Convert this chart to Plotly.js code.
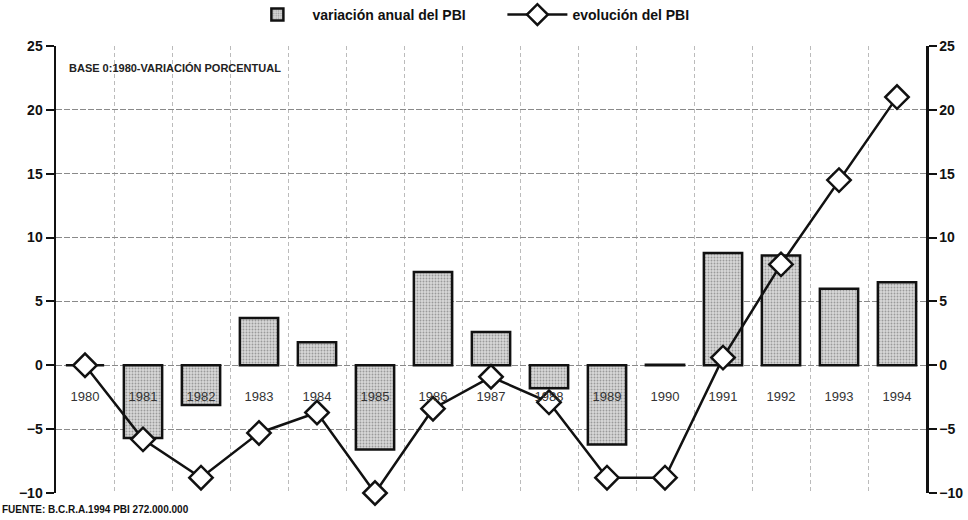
<!DOCTYPE html>
<html><head><meta charset="utf-8">
<script src="https://cdn.plot.ly/plotly-3.0.1.min.js"></script>
<style>body{margin:0;background:#fff}#c{width:968px;height:520px}</style>
</head><body><div id="c"></div>
<script>
const years = ["1980","1981","1982","1983","1984","1985","1986","1987","1988","1989","1990","1991","1992","1993","1994"];
const variacionAnual = [0, -5.7, -3.1, 3.7, 1.8, -6.6, 7.3, 2.6, -1.8, -6.2, 0.05, 8.8, 8.6, 6.0, 6.5];
const evolucion = [0, -5.8, -8.8, -5.3, -3.7, -10.0, -3.4, -0.9, -2.9, -8.8, -8.8, 0.6, 7.9, 14.5, 21.0];
const yTicks = [-10, -5, 0, 5, 10, 15, 20, 25];
const barName = "variación anual del PBI";
const lineName = "evolución del PBI";
const noteTop = "BASE 0:1980-VARIACIÓN PORCENTUAL";
const noteBottom = "FUENTE: B.C.R.A.1994 PBI 272.000.000";

const F = "Liberation Sans, Arial, sans-serif";
const yr = [-10, 25];

const traces = [
  {type:"bar", x:years, y:variacionAnual, name:barName, width:0.66,
   marker:{color:"#d0d0d0", line:{color:"#111", width:2.5},
     pattern:{shape:".", bgcolor:"#d8d8d8", fgcolor:"#9a9a9a", size:3, solidity:0.3}}},
  {type:"scatter", mode:"lines+markers", x:years, y:evolucion, name:lineName, cliponaxis:false,
   line:{color:"#111", width:2.5},
   marker:{symbol:"diamond", size:18, color:"#fff", line:{color:"#111", width:2.5}}},
  {type:"scatter", mode:"lines", x:years, y:evolucion, yaxis:"y2", opacity:0,
   showlegend:false, hoverinfo:"skip"}
];

const layout = {
  width:968, height:520, paper_bgcolor:"#fff", plot_bgcolor:"#fff",
  margin:{l:56, r:42, t:46, b:27},
  font:{family:F, color:"#111", size:13},
  showlegend:true,
  legend:{orientation:"h", x:0.519, xanchor:"center", y:1 - 15/520, yanchor:"middle",
    yref:"container", xref:"container", font:{family:F, size:14, color:"#111", weight:"bold"},
    itemwidth:60, entrywidth:185, entrywidthmode:"pixels", traceorder:"normal", bgcolor:"rgba(0,0,0,0)"},
  xaxis:{type:"category", range:[-0.5, 14.5], anchor:"free", position:10/35,
    tickson:"boundaries", ticks:"", showline:false, zeroline:false,
    showgrid:true, gridcolor:"#bbbbbb", griddash:"4px,3px", gridwidth:1,
    tickfont:{family:F, size:13, color:"#333"}, ticklabelstandoff:22},
  yaxis:{range:yr, tickvals:yTicks, ticks:"outside", ticklen:8, tickwidth:2, tickcolor:"#111",
    showline:true, linecolor:"#111", linewidth:2.5, zeroline:false,
    showgrid:true, gridcolor:"#8a8a8a", griddash:"6px,2px", gridwidth:1.2,
    tickfont:{family:F, size:14, color:"#111", weight:"bold"}},
  yaxis2:{range:yr, tickvals:yTicks, overlaying:"y", side:"right", ticks:"outside", ticklen:8,
    tickwidth:2, tickcolor:"#111", showline:true, linecolor:"#111", linewidth:2.5,
    zeroline:false, showgrid:false, tickfont:{family:F, size:14, color:"#111", weight:"bold"}},
  annotations:[
    {text:noteTop, xref:"paper", yref:"paper", x:0.013, y:0.95, xanchor:"left", yanchor:"middle",
     showarrow:false, font:{family:F, size:11, color:"#222", weight:"bold"}},
    {text:noteBottom, xref:"paper", yref:"paper", x:-0.064, y:-0.038, xanchor:"left", yanchor:"middle",
     showarrow:false, font:{family:F, size:10, color:"#111", weight:"bold"}}
  ]
};
Plotly.newPlot("c", traces, layout, {displayModeBar:false, staticPlot:true});
</script></body></html>
